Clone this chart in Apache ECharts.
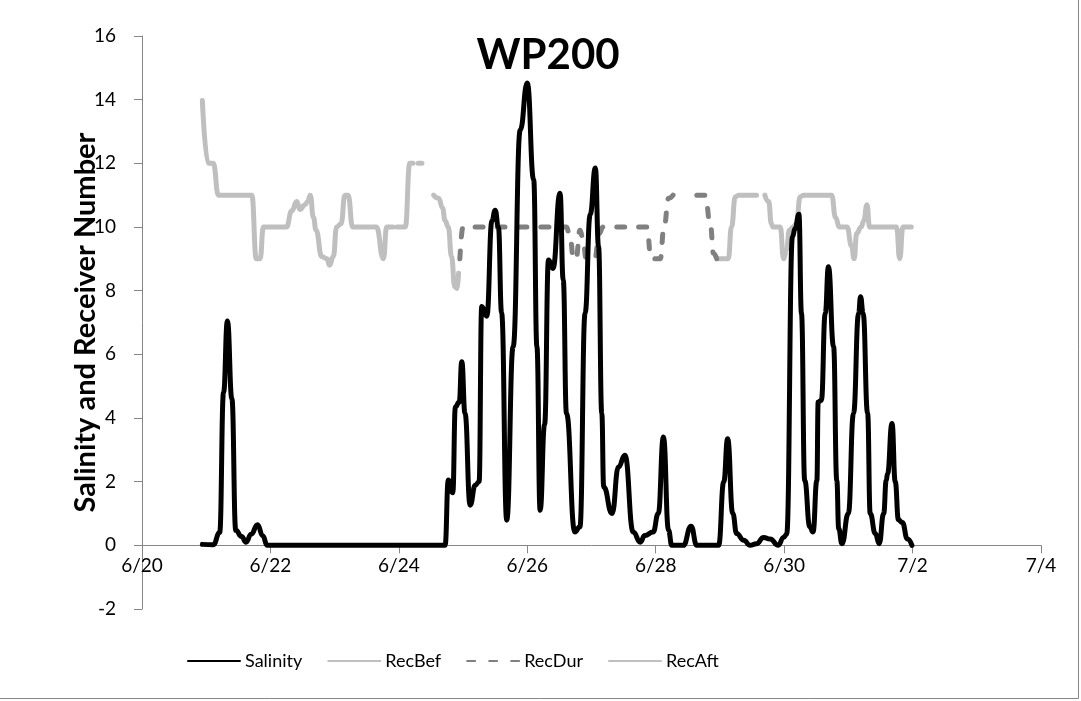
<!DOCTYPE html>
<html>
<head>
<meta charset="utf-8">
<script src="https://cdn.jsdelivr.net/npm/echarts@6/dist/echarts.min.js"></script>
<style>
  html, body { margin: 0; padding: 0; background: #fff; }
  #chart { width: 1081px; height: 701px; }
</style>
</head>
<body>
<div id="chart"></div>
<script>
// Time is given in days after 6/20 00:00; values are salinity and receiver counts.
const xTickLabels = ['6/20', '6/22', '6/24', '6/26', '6/28', '6/30', '7/2', '7/4'];

const salinity = [
  [0.94, 0.03], [1.11, 0.02], [1.21, 0.40], [1.27, 4.8], [1.33, 7.05], [1.40, 4.6], [1.46, 0.47],
  [1.55, 0.28], [1.62, 0.10], [1.70, 0.35], [1.80, 0.65], [1.88, 0.30], [1.95, 0], [2.2, 0], [4.72, 0],
  [4.77, 2.05], [4.84, 1.65], [4.88, 4.35], [4.94, 4.5], [4.98, 5.77], [5.03, 4.15], [5.11, 1.26],
  [5.19, 1.89], [5.25, 2.0], [5.29, 7.5], [5.37, 7.2], [5.45, 10.2], [5.50, 10.53], [5.55, 10.0],
  [5.60, 7.3], [5.68, 0.79], [5.78, 6.24], [5.89, 13.05], [6.00, 14.52], [6.10, 11.48], [6.15, 6.24],
  [6.20, 1.1], [6.27, 3.8], [6.33, 8.96], [6.40, 8.7], [6.51, 11.06], [6.56, 8.33], [6.61, 4.15],
  [6.74, 0.42], [6.82, 0.58], [6.90, 7.29], [6.98, 10.4], [7.06, 11.85], [7.11, 9.38], [7.16, 4.15],
  [7.19, 1.83], [7.32, 1.0], [7.42, 2.46], [7.52, 2.83], [7.65, 0.42], [7.76, 0.1], [7.83, 0.31],
  [7.96, 0.42], [8.04, 1.0], [8.12, 3.4], [8.20, 0.47], [8.25, 0], [8.43, 0], [8.55, 0.6], [8.64, 0],
  [8.98, 0], [9.06, 2.0], [9.12, 3.35], [9.20, 1.0], [9.26, 0.37], [9.37, 0.16], [9.47, 0],
  [9.57, 0.05], [9.68, 0.25], [9.78, 0.2], [9.91, 0], [9.99, 0.25], [10.04, 0.35], [10.13, 9.7],
  [10.17, 9.95], [10.23, 10.4], [10.27, 7.29], [10.32, 2.04], [10.40, 0.58], [10.45, 0.42],
  [10.51, 2.04], [10.53, 4.5], [10.58, 4.56], [10.64, 7.29], [10.69, 8.75], [10.77, 6.24],
  [10.82, 2.04], [10.85, 0.52], [10.90, 0.05], [11.00, 1.0], [11.08, 4.14], [11.16, 7.29],
  [11.19, 7.81], [11.23, 7.29], [11.30, 4.14], [11.34, 1.0], [11.42, 0.37], [11.48, 0.05],
  [11.55, 1.0], [11.59, 2.04], [11.61, 2.25], [11.68, 3.83], [11.73, 2.0], [11.78, 0.8],
  [11.84, 0.72], [11.92, 0.2], [11.99, 0]
];

// Receiver counts before, during and after the event (null = no reading)
const recBef = [
  [0.94, 13.97], [1.03, 12.0], [1.11, 12.0], [1.19, 11.0], [1.71, 11.0], [1.78, 9.0], [1.84, 9.0],
  [1.89, 10.0], [2.25, 10.0], [2.33, 10.5], [2.41, 10.8], [2.46, 10.55], [2.54, 10.7], [2.58, 10.8],
  [2.62, 11.0], [2.67, 10.3], [2.71, 9.9], [2.80, 9.07], [2.88, 9.0], [2.92, 8.8], [2.98, 9.07],
  [3.03, 10.0], [3.10, 10.1], [3.16, 11.0], [3.21, 11.0], [3.28, 10.0], [3.65, 10.0], [3.76, 9.0],
  [3.81, 10.0], [3.91, 10.0], [3.94, null], [3.97, 10.0], [4.10, 10.0], [4.17, 12.0], [4.22, 12.0],
  [4.26, null], [4.30, 12.0], [4.36, 12.0], [4.45, null], [4.54, 11.0], [4.62, 10.9], [4.68, 10.6],
  [4.72, 10.2], [4.77, 10.0], [4.82, 9.07], [4.87, 8.12], [4.91, 8.07], [4.93, 8.55]
];

const recDur = [
  [4.95, 9.0], [5.00, 10.0], [6.61, 10.0], [6.67, 9.6], [6.72, 9.0], [6.76, 9.0], [6.82, 9.9],
  [6.86, 9.7], [6.92, 9.0], [7.05, 9.0], [7.12, 9.8], [7.18, 10.0], [7.86, 10.0], [7.93, 9.0],
  [8.07, 9.0], [8.13, 10.0], [8.20, 10.9], [8.27, 11.0], [8.45, null], [8.64, 11.0], [8.77, 11.0],
  [8.85, 10.1], [8.90, 9.17], [8.95, 9.0]
];

const recAft = [
  [8.98, 9.0], [9.13, 9.0], [9.18, 10.0], [9.24, 10.95], [9.29, 11.0], [9.57, 11.0], [9.63, null],
  [9.70, 11.0], [9.76, 10.8], [9.80, 10.1], [9.83, 10.0], [9.94, 10.0], [9.99, 9.0], [10.04, 9.3],
  [10.08, 9.9], [10.14, 10.0], [10.19, 10.1], [10.25, 10.95], [10.30, 11.0], [10.74, 11.0],
  [10.80, 10.3], [10.86, 10.0], [10.98, 10.0], [11.05, 9.4], [11.09, 9.0], [11.13, 9.8],
  [11.20, 10.0], [11.24, 10.2], [11.29, 10.7], [11.33, 10.0], [11.75, 10.0], [11.80, 9.0],
  [11.85, 10.0], [11.98, 10.0]
];

const FONT = 'Lato, "Open Sans", sans-serif';
const AXIS_GREY = '#868686';
const LINE_WIDTH = 5;

function lineSeries(name, data, color, z, dashed) {
  return {
    name: name,
    type: 'line',
    data: data,
    z: z,
    symbol: 'none',
    showSymbol: false,
    smooth: 0.5,
    smoothMonotone: 'x',
    connectNulls: false,
    lineStyle: {
      color: color,
      width: LINE_WIDTH,
      type: dashed ? [8, 14] : 'solid',
      cap: 'round',
      join: 'round'
    },
    itemStyle: { color: color },
    emphasis: { disabled: true }
  };
}

const chart = echarts.init(document.getElementById('chart'), null, { renderer: 'canvas' });

chart.setOption({
  animation: false,
  backgroundColor: '#ffffff',
  title: {
    text: 'WP200',
    left: 543,
    textAlign: 'center',
    top: 29,
    textStyle: { fontFamily: FONT, fontWeight: 'bold', fontSize: 42, color: '#000' }
  },
  grid: { left: 142, right: 40, top: 36, bottom: 92, containLabel: false },
  legend: {
    left: 187,
    top: 652,
    padding: 0,
    itemWidth: 52,
    itemHeight: 6,
    itemGap: 25,
    selectedMode: false,
    itemStyle: { opacity: 0 },
    textStyle: { fontFamily: FONT, fontSize: 18, color: '#000' },
    data: ['Salinity', 'RecBef', 'RecDur', 'RecAft']
  },
  xAxis: {
    type: 'value',
    min: 0,
    max: 14,
    interval: 2,
    axisLine: { show: true, onZero: false, lineStyle: { color: AXIS_GREY, width: 1 } },
    axisTick: { show: true, inside: false, length: 8, lineStyle: { color: AXIS_GREY } },
    splitLine: { show: false },
    axisLabel: {
      formatter: function (v) { return xTickLabels[Math.round(v / 2)]; },
      color: '#000',
      fontFamily: FONT,
      fontSize: 19,
      margin: 11
    }
  },
  yAxis: {
    type: 'value',
    min: -2,
    max: 16,
    interval: 2,
    name: 'Salinity and Receiver Number',
    nameLocation: 'middle',
    nameGap: 42,
    nameRotate: 90,
    nameMoveOverlap: false,
    nameTextStyle: { fontFamily: FONT, fontWeight: 'bold', fontSize: 29, color: '#000' },
    axisLine: { show: true, lineStyle: { color: AXIS_GREY, width: 1 } },
    axisTick: { show: true, length: 8, lineStyle: { color: AXIS_GREY } },
    splitLine: { show: false },
    axisLabel: { color: '#000', fontFamily: FONT, fontSize: 19, margin: 26 }
  },
  graphic: [
    { type: 'line', shape: { x1: 1078.5, y1: 0, x2: 1078.5, y2: 698.5 }, style: { stroke: AXIS_GREY, lineWidth: 1 } },
    { type: 'line', shape: { x1: 0, y1: 698.5, x2: 1078.5, y2: 698.5 }, style: { stroke: AXIS_GREY, lineWidth: 1 } }
  ],
  series: [
    lineSeries('Salinity', salinity, '#000000', 4, false),
    lineSeries('RecBef', recBef, '#BFBFBF', 2, false),
    lineSeries('RecDur', recDur, '#808080', 3, true),
    lineSeries('RecAft', recAft, '#BFBFBF', 2, false)
  ]
});

// The date axis crosses the value axis at zero: lift it from the grid bottom to y = 0.
const yZero = chart.convertToPixel({ yAxisIndex: 0 }, 0);
const yBottom = chart.convertToPixel({ yAxisIndex: 0 }, -2);
chart.setOption({ xAxis: { offset: -(yBottom - yZero) } });
</script>
</body>
</html>
